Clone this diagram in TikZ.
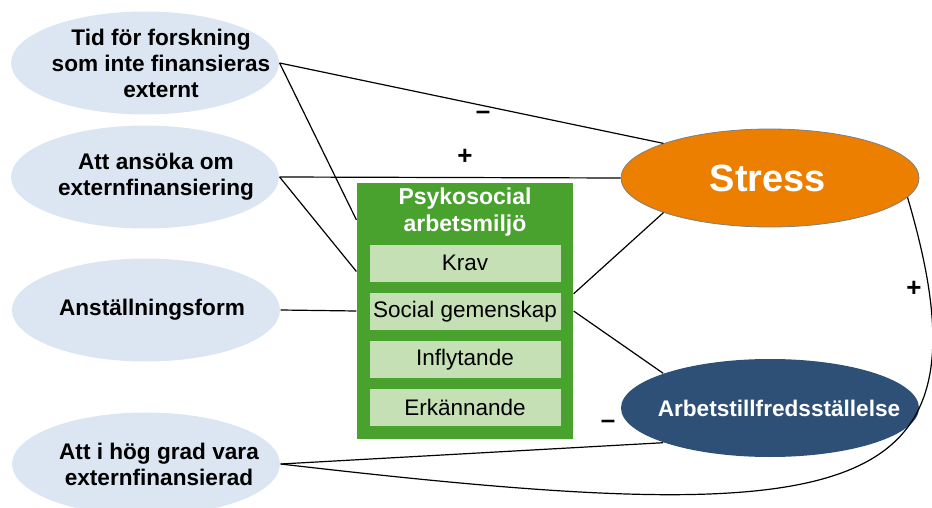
\documentclass[tikz,border=0pt]{standalone}
\usepackage{fontspec}
\setmainfont{Liberation Sans}
\usetikzlibrary{positioning, shapes.geometric}
\definecolor{faktorblue}{HTML}{DCE6F2}
\definecolor{miljogreen}{HTML}{49A12E}
\definecolor{aspektgreen}{HTML}{C5E0B4}
\definecolor{stressorange}{HTML}{EC7E00}
\definecolor{nojdblue}{HTML}{2E5077}

\begin{document}
\begin{tikzpicture}[x=1pt, y=-1pt, line width=1.2pt,
    faktor/.style={ellipse, fill=faktorblue, minimum width=268pt, minimum height=103pt, inner sep=0pt},
    faktortext/.style={align=center, inner sep=0pt, font=\fontsize{22.6}{26}\selectfont\bfseries},
    miljobox/.style={rectangle, fill=miljogreen, minimum width=216pt, minimum height=256pt, inner sep=0pt},
    rubrik/.style={text=white, align=center, inner sep=0pt, font=\fontsize{23}{27}\selectfont\bfseries},
    aspekt/.style={rectangle, fill=aspektgreen, minimum width=191pt, minimum height=37pt, inner sep=0pt, font=\fontsize{22.5}{26}\selectfont},
    utfall/.style={ellipse, minimum width=298pt, minimum height=98pt, inner sep=0pt},
    utfalltext/.style={text=white, inner sep=0pt, font=\fontsize{22.6}{26}\selectfont\bfseries},
    tecken/.style={inner sep=0pt, font=\fontsize{26}{26}\selectfont\bfseries}]
                    \useasboundingbox (0,0) rectangle (932,508);
                    \node[faktor, label={[faktortext, xshift=16pt]center:{Tid för forskning\\som inte finansieras\\externt}}](tid) at (145,63) {};
                    \node[faktor, label={[faktortext, xshift=11pt]center:{Att ansöka om\\externfinansiering}}](ansoka) at (145,177) {};
                    \node[faktor, label={[faktortext, xshift=6pt]center:{Anställningsform}}](anstallning) at (146,310) {};
                    \node[faktor, label={[faktortext, xshift=13pt]center:{Att i hög grad vara\\externfinansierad}}](hoggrad) at (146,464) {};

                    \node[miljobox](miljo) at (465,311) {};
                    \node[rubrik](rubriktext) at (465,212) {Psykosocial\\arbetsmiljö};
                    \node[aspekt](krav) at (465,263) {Krav};
                    \node[aspekt, below=10pt of krav](social) {Social gemenskap};
                    \node[aspekt, below=10pt of social](inflytande) {Inflytande};
                    \node[aspekt, below=10pt of inflytande](erkannande) {Erkännande};

                    \node[utfall, fill=stressorange, draw=gray, line width=0.8pt, label={[utfalltext, font=\fontsize{38}{40}\selectfont\bfseries, xshift=-2pt]center:{Stress}}](stress) at (770,178) {};
                    \node[utfall, fill=nojdblue, label={[utfalltext, xshift=9pt]center:{Arbetstillfredsställelse}}](nojd) at (770,408) {};

                    \draw[-] (tid.east) -- (stress.162);
                    \draw[-] (tid.east) -- (miljo.140);
                    \draw[-] (ansoka.east) -- (stress.west);
                    \draw[-] (ansoka.east) -- (miljo.160);
                    \draw[-] (anstallning.east) -- (miljo.west);
                    \draw[-] (miljo.9) -- (stress.198);
                    \draw[-] (miljo.east) -- (nojd.162);
                    \draw[-] (hoggrad.east) -- (nojd.198);
                    \draw[-] (hoggrad.east) .. controls (850,530) and (1000,510) .. (stress.-8);

                    \node[tecken](minus1) at (483,115) {–};
                    \node[tecken](plus1) at (465,157) {+};
                    \node[tecken](plus2) at (914,289) {+};
                    \node[tecken](minus2) at (608,424) {–};
                \end{tikzpicture}
\end{document}
